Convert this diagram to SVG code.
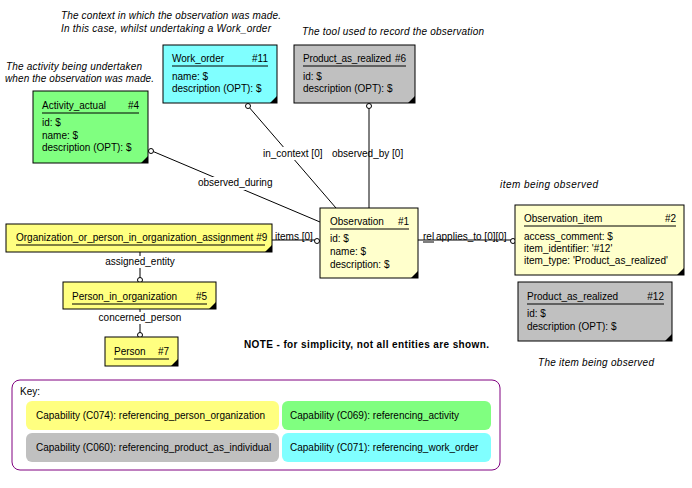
<svg xmlns="http://www.w3.org/2000/svg" width="692" height="488" viewBox="0 0 692 488">
<style>
text{font-family:"Liberation Sans",Arial,sans-serif;font-size:10px;fill:#000}
.it{font-style:italic;font-size:10px}
.b{stroke:#000;stroke-width:1}
.c{stroke:#000;stroke-width:1;fill:none}
.o{fill:#fff;stroke:#000;stroke-width:1}
.u{stroke:#000;stroke-width:1}
</style>
<rect width="692" height="488" fill="#fff"/>
<text class="it" x="61" y="19" textLength="220">The context in which the observation was made.</text>
<text class="it" x="61" y="32" textLength="210">In this case, whilst undertaking a Work_order</text>
<text class="it" x="302" y="35" textLength="182">The tool used to record the observation</text>
<text class="it" x="6" y="70" textLength="136">The activity being undertaken</text>
<text class="it" x="5" y="82" textLength="149">when the observation was made.</text>
<text class="it" x="500" y="188" textLength="98">item being observed</text>
<text class="it" x="538" y="366" textLength="116">The item being observed</text>
<text x="244" y="348" font-weight="bold" font-size="9.5" textLength="245">NOTE - for simplicity, not all entities are shown.</text>
<g id="connectors">
<line class="c" x1="248" y1="106" x2="336" y2="208"/>
<line class="c" x1="369" y1="106" x2="369" y2="208"/>
<line class="c" x1="152" y1="151" x2="320" y2="222"/>
<line class="c" x1="272" y1="240" x2="316" y2="240"/>
<line class="c" x1="418" y1="240" x2="511" y2="240"/>
<line class="c" x1="140" y1="252" x2="140" y2="279"/>
<line class="c" x1="140" y1="309" x2="140" y2="334"/>
<circle class="o" cx="248" cy="106" r="2.5"/>
<circle class="o" cx="369" cy="106" r="2.5"/>
<circle class="o" cx="151" cy="151" r="2.5"/>
<circle class="o" cx="317" cy="241" r="2.5"/>
<circle class="o" cx="513" cy="241" r="2.5"/>
<circle class="o" cx="140" cy="280" r="2.5"/>
<circle class="o" cx="140" cy="335" r="2.5"/>
<rect x="262" y="147" width="62" height="13" fill="#fff"/>
<text x="263" y="157">in_context [0]</text>
<text x="332" y="157">observed_by [0]</text>
<rect x="197" y="177" width="76" height="13" fill="#fff"/>
<text x="198" y="186">observed_during</text>
<text x="275" y="240">items [0]</text>
<text x="423" y="240">rel</text>
<line class="u" x1="423" y1="242" x2="434" y2="242"/>
<text x="436" y="240">applies_to [0][0]</text>
<rect x="102" y="256" width="76" height="12" fill="#fff"/>
<text x="140" y="265" text-anchor="middle">assigned_entity</text>
<rect x="96" y="312" width="88" height="12" fill="#fff"/>
<text x="140" y="321" text-anchor="middle">concerned_person</text>
</g>
<g id="work_order">
<rect class="b" x="163" y="45" width="114" height="58" fill="#80ffff"/>
<polygon points="277,96 277,103 270,103"/>
<text x="172" y="62">Work_order</text><text x="268" y="62" text-anchor="end">#11</text>
<line class="u" x1="172" y1="66" x2="268" y2="66"/>
<text x="172" y="80">name: $</text><text x="172" y="92">description (OPT): $</text>
</g>
<g id="product6">
<rect class="b" x="294" y="45" width="121" height="58" fill="#c0c0c0"/>
<polygon points="415,96 415,103 408,103"/>
<text x="303" y="62" textLength="88">Product_as_realized</text><text x="406" y="62" text-anchor="end">#6</text>
<line class="u" x1="303" y1="66" x2="406" y2="66"/>
<text x="303" y="80">id: $</text><text x="303" y="92">description (OPT): $</text>
</g>
<g id="activity">
<rect class="b" x="33" y="91" width="115" height="72" fill="#80ff80"/>
<polygon points="148,156 148,163 141,163"/>
<text x="42" y="109">Activity_actual</text><text x="139" y="109" text-anchor="end">#4</text>
<line class="u" x1="42" y1="113" x2="139" y2="113"/>
<text x="42" y="126">id: $</text><text x="42" y="139">name: $</text><text x="42" y="151">description (OPT): $</text>
</g>
<g id="observation">
<rect class="b" x="320" y="208" width="98" height="70" fill="#ffffcc"/>
<polygon points="418,271 418,278 411,278"/>
<text x="330" y="225">Observation</text><text x="409" y="225" text-anchor="end">#1</text>
<line class="u" x1="330" y1="229" x2="409" y2="229"/>
<text x="330" y="242">id: $</text><text x="330" y="255">name: $</text><text x="330" y="268">description: $</text>
</g>
<g id="observation_item">
<rect class="b" x="515" y="205" width="169" height="70" fill="#ffffcc"/>
<polygon points="684,268 684,275 677,275"/>
<text x="524" y="222">Observation_item</text><text x="676" y="222" text-anchor="end">#2</text>
<line class="u" x1="524" y1="226" x2="676" y2="226"/>
<text x="524" y="240">access_comment: $</text><text x="524" y="252">item_identifier: '#12'</text><text x="524" y="264">item_type: 'Product_as_realized'</text>
</g>
<g id="product12">
<rect class="b" x="518" y="282" width="154" height="59" fill="#c0c0c0"/>
<polygon points="672,334 672,341 665,341"/>
<text x="527" y="300">Product_as_realized</text><text x="664" y="300" text-anchor="end">#12</text>
<line class="u" x1="527" y1="304" x2="664" y2="304"/>
<text x="527" y="317">id: $</text><text x="527" y="330">description (OPT): $</text>
</g>
<g id="org">
<rect class="b" x="6" y="224" width="266" height="28" fill="#ffff80"/>
<polygon points="272,245 272,252 265,252"/>
<text x="16" y="241">Organization_or_person_in_organization_assignment #9</text>
<line class="u" x1="16" y1="245" x2="265" y2="245"/>
</g>
<g id="pio">
<rect class="b" x="63" y="282" width="153" height="27" fill="#ffff80"/>
<polygon points="216,302 216,309 209,309"/>
<text x="72" y="300">Person_in_organization</text><text x="207" y="300" text-anchor="end">#5</text>
<line class="u" x1="72" y1="304" x2="207" y2="304"/>
</g>
<g id="person">
<rect class="b" x="105" y="337" width="73" height="29" fill="#ffff80"/>
<polygon points="178,359 178,366 171,366"/>
<text x="114" y="355">Person</text><text x="169" y="355" text-anchor="end">#7</text>
<line class="u" x1="114" y1="359" x2="169" y2="359"/>
</g>
<g id="key">
<rect x="12" y="380" width="488" height="90" rx="8" fill="#fff" stroke="#800080"/>
<text x="20" y="395">Key:</text>
<rect x="26" y="401" width="253" height="29" rx="6" fill="#ffff80"/>
<text x="36" y="419">Capability (C074): referencing_person_organization</text>
<rect x="282" y="401" width="209" height="29" rx="6" fill="#80ff80"/>
<text x="290" y="419">Capability (C069): referencing_activity</text>
<rect x="26" y="433" width="253" height="29" rx="6" fill="#c0c0c0"/>
<text x="36" y="451">Capability (C060): referencing_product_as_individual</text>
<rect x="282" y="433" width="209" height="29" rx="6" fill="#80ffff"/>
<text x="290" y="451">Capability (C071): referencing_work_order</text>
</g>
</svg>
